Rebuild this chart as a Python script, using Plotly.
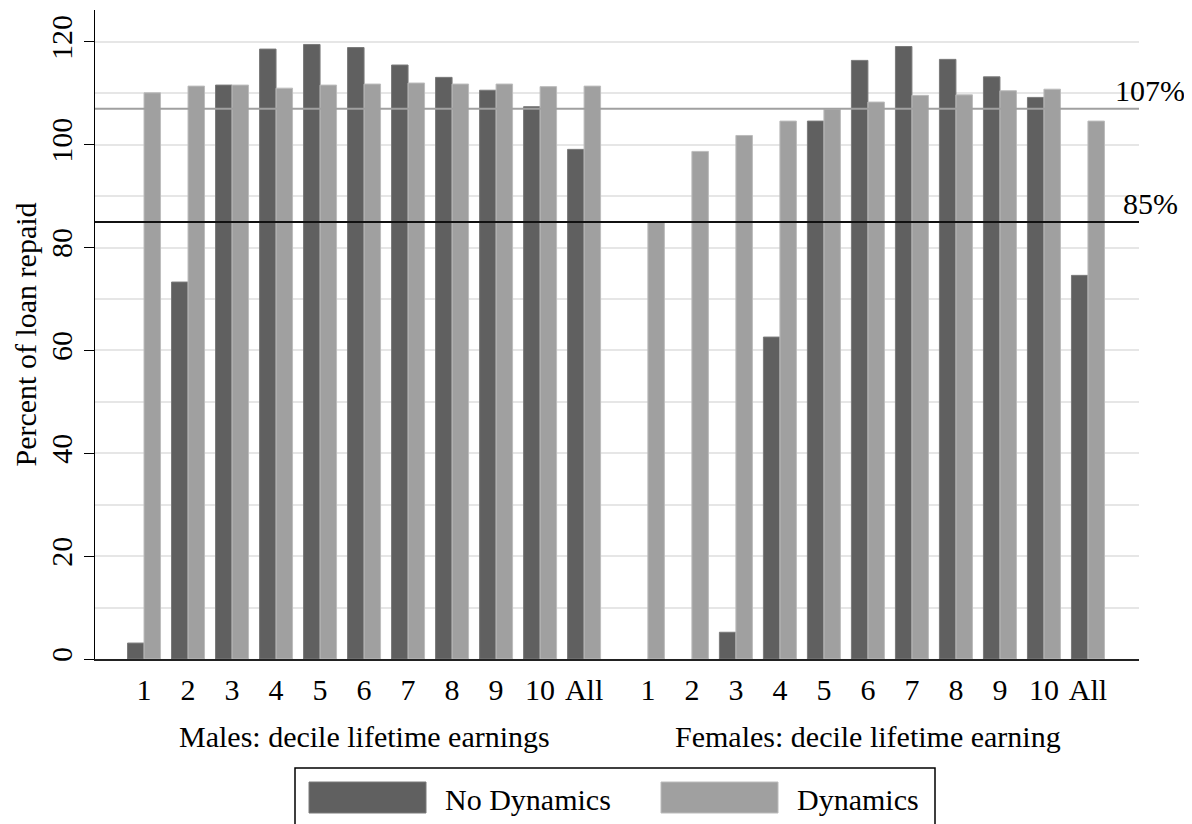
import plotly.graph_objects as go

# ---------------- data ----------------
decile_labels = ["1", "2", "3", "4", "5", "6", "7", "8", "9", "10", "All"]
males_no_dynamics = [3.1, 73.3, 111.6, 118.6, 119.5, 118.9, 115.5, 113.1, 110.6, 107.4, 99.1]
males_dynamics = [110.1, 111.4, 111.6, 111.0, 111.6, 111.8, 112.0, 111.8, 111.8, 111.3, 111.4]
females_no_dynamics = [0.0, 0.0, 5.2, 62.6, 104.6, 116.4, 119.1, 116.6, 113.2, 109.2, 74.6]
females_dynamics = [85.0, 98.7, 101.8, 104.6, 106.9, 108.3, 109.6, 109.7, 110.5, 110.8, 104.6]
ref_lines = [107, 85]
ref_labels = ["107%", "85%"]
group_titles = ["Males: decile lifetime earnings", "Females: decile lifetime earning"]
series_names = ["No Dynamics", "Dynamics"]

# category positions (females group shifted after a gap)
GAP = 1.45
male_x = list(range(len(decile_labels)))
female_x = [len(decile_labels) - 1 + GAP + i for i in range(len(decile_labels))]
all_x = male_x + female_x

DARK = "#606060"
LIGHT = "#a0a0a0"
FONT = "Liberation Serif, Times New Roman, serif"
FS = 30

# the page body adds an 8px offset; compensate so the plot lands at target page pixels
OFF = 8
PL, PR, PT, PB = 95, 1139, 10, 659  # plot area in page pixels
FIG_W, FIG_H = 1192 - OFF, 824 - OFF

def px_x(p):
    return (p - PL) / float(PR - PL)

def px_y(p):
    return (PB - p) / float(PB - PT)

no_dyn = males_no_dynamics + females_no_dynamics
dyn = males_dynamics + females_dynamics

fig = go.Figure()
fig.add_trace(go.Bar(
    x=all_x, y=no_dyn, name=series_names[0],
    width=0.375, offset=-0.375,
    marker=dict(color=DARK, line=dict(color="#7a7a7a", width=[1 if v > 0 else 0 for v in no_dyn])),
    showlegend=False))
fig.add_trace(go.Bar(
    x=all_x, y=dyn, name=series_names[1],
    width=0.375, offset=0.0,
    marker=dict(color=LIGHT, line=dict(color="#bcbcbc", width=[1 if v > 0 else 0 for v in dyn])),
    showlegend=False))

# reference lines on top of bars
line_colors = ["#a0a0a0", "#111111"]
for val, col in zip(ref_lines, line_colors):
    fig.add_shape(type="line", xref="paper", yref="y", x0=0, x1=1, y0=val, y1=val,
                  line=dict(color=col, width=2), layer="above")

annotations = []
for val, lab in zip(ref_lines, ref_labels):
    annotations.append(dict(text=lab, xref="paper", yref="y", x=px_x(1150), y=val,
                            xanchor="center", yanchor="bottom", showarrow=False,
                            font=dict(family=FONT, size=FS, color="black")))

# y axis title
annotations.append(dict(text="Percent of loan repaid", xref="paper", yref="paper",
                        x=px_x(25), y=0.5, textangle=-90, xanchor="center", yanchor="middle",
                        showarrow=False, font=dict(family=FONT, size=FS, color="black")))

# group titles
group_centers = [(male_x[0] + male_x[-1]) / 2, (female_x[0] + female_x[-1]) / 2]
for cx, t in zip(group_centers, group_titles):
    annotations.append(dict(text=t, xref="x", yref="paper", x=cx, y=px_y(755),
                            xanchor="center", yanchor="bottom", showarrow=False,
                            font=dict(family=FONT, size=FS, color="black")))

# custom legend (large swatches)
fig.add_shape(type="rect", xref="paper", yref="paper",
              x0=px_x(295), x1=px_x(935), y0=px_y(845), y1=px_y(768),
              line=dict(color="black", width=1.5), fillcolor="white", layer="above")
swatches = [(309, 426, DARK, "#7a7a7a", 443), (661, 778, LIGHT, "#bcbcbc", 795)]
for (x0, x1, fc, lc, tx), name in zip(swatches, series_names):
    fig.add_shape(type="rect", xref="paper", yref="paper",
                  x0=px_x(x0), x1=px_x(x1), y0=px_y(813), y1=px_y(782),
                  line=dict(color=lc, width=1), fillcolor=fc, layer="above")
    annotations.append(dict(text=name, xref="paper", yref="paper", x=px_x(tx), y=px_y(818),
                            xanchor="left", yanchor="bottom", showarrow=False,
                            font=dict(family=FONT, size=FS, color="black")))

fig.update_layout(
    width=FIG_W, height=FIG_H,
    margin=dict(l=PL - OFF, r=FIG_W - (PR - OFF), t=PT - OFF, b=FIG_H - (PB - OFF)),
    paper_bgcolor="white", plot_bgcolor="white",
    barmode="overlay",
    showlegend=False,
    font=dict(family=FONT, size=FS, color="black"),
    annotations=annotations,
    xaxis=dict(range=[-1.114, 22.61], tickvals=all_x, ticktext=decile_labels + decile_labels,
               showgrid=False, zeroline=False, showline=True, linecolor="#222222", linewidth=2,
               ticks="", ticklabelstandoff=3,
               tickfont=dict(family=FONT, size=FS, color="black")),
    yaxis=dict(range=[0, 126.2], tickvals=[0, 20, 40, 60, 80, 100, 120],
               showgrid=True, gridcolor="#e6e6e6", gridwidth=2,
               minor=dict(dtick=10, showgrid=True, gridcolor="#e6e6e6", gridwidth=2),
               zeroline=False, showline=True, linecolor="black", linewidth=1,
               ticks="outside", ticklen=10, tickcolor="black", tickwidth=1,
               tickangle=-90, tickfont=dict(family=FONT, size=FS, color="black")),
)

fig.write_html("out.html")
